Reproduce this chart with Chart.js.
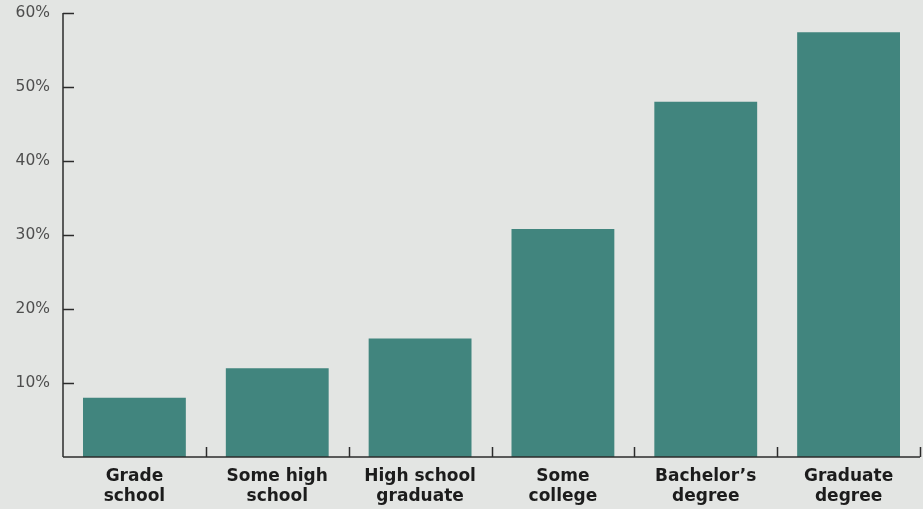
<!DOCTYPE html>
<html>
<head>
<meta charset="utf-8">
<script src="https://cdn.jsdelivr.net/npm/chart.js@4/dist/chart.umd.min.js"></script>
<style>
  html, body { margin: 0; padding: 0; background: #e3e5e3; }
  #wrap { width: 923px; height: 509px; position: relative; }
</style>
</head>
<body>
<div id="wrap"><canvas id="c" width="923" height="509"></canvas></div>
<script>
const categories = [
  ["Grade", "school"],
  ["Some high", "school"],
  ["High school", "graduate"],
  ["Some", "college"],
  ["Bachelor\u2019s", "degree"],
  ["Graduate", "degree"]
];
const values = [8, 12, 16, 30.8, 48, 57.4];
const yTicks = [10, 20, 30, 40, 50, 60];

const axisColor = '#2b2b2b';

const innerTicks = {
  id: 'innerTicks',
  afterDraw(chart) {
    const ctx = chart.ctx;
    const y = chart.scales.y, x = chart.scales.x;
    const area = chart.chartArea;
    ctx.save();
    ctx.strokeStyle = axisColor;
    ctx.lineWidth = 1.5;
    ctx.beginPath();
    ctx.moveTo(area.left, y.getPixelForValue(60));
    ctx.lineTo(area.left, y.getPixelForValue(0));
    ctx.stroke();
    yTicks.forEach(v => {
      const py = Math.round(y.getPixelForValue(v)) + 0.5;
      ctx.beginPath();
      ctx.moveTo(area.left, py);
      ctx.lineTo(area.left + 11, py);
      ctx.stroke();
    });
    const by = y.getPixelForValue(0);
    ctx.beginPath();
    ctx.moveTo(area.left, by);
    ctx.lineTo(area.right, by);
    ctx.stroke();
    const step = x.getPixelForValue(1) - x.getPixelForValue(0);
    for (let i = 0; i < categories.length; i++) {
      const px = x.getPixelForValue(i) + step / 2;
      ctx.beginPath();
      ctx.moveTo(Math.round(px) + 0.5, by);
      ctx.lineTo(Math.round(px) + 0.5, by - 10);
      ctx.stroke();
    }
    ctx.restore();
  }
};

new Chart(document.getElementById('c'), {
  type: 'bar',
  data: {
    labels: categories,
    datasets: [{
      data: values,
      backgroundColor: '#41857e',
      borderWidth: 0,
      categoryPercentage: 1,
      barPercentage: 0.72
    }]
  },
  options: {
    responsive: false,
    animation: false,
    layout: { padding: { top: 13, right: 3, left: 0, bottom: 0 } },
    plugins: { legend: { display: false }, tooltip: { enabled: false } },
    scales: {
      x: {
        grid: { display: false, drawTicks: false },
        border: { display: false },
        ticks: {
          color: '#1c1c1c',
          font: { family: 'DejaVu Sans', size: 17, weight: 'bold', lineHeight: 1.2 },
          padding: 9,
          maxRotation: 0,
          autoSkip: false
        },
        afterFit(s) { s.height = 52; s.paddingLeft = 0; s.paddingRight = 0; }
      },
      y: {
        min: 0, max: 60,
        grid: { display: false, drawTicks: false },
        border: { display: false },
        ticks: {
          stepSize: 10,
          color: '#4e4e4e',
          font: { family: 'DejaVu Sans', size: 15.5 },
          padding: 13,
          callback: v => v === 0 ? '' : v + '%'
        },
        afterFit(s) { s.width = 63; s.paddingTop = 0; s.paddingBottom = 0; }
      }
    }
  },
  plugins: [innerTicks]
});
</script>
</body>
</html>
